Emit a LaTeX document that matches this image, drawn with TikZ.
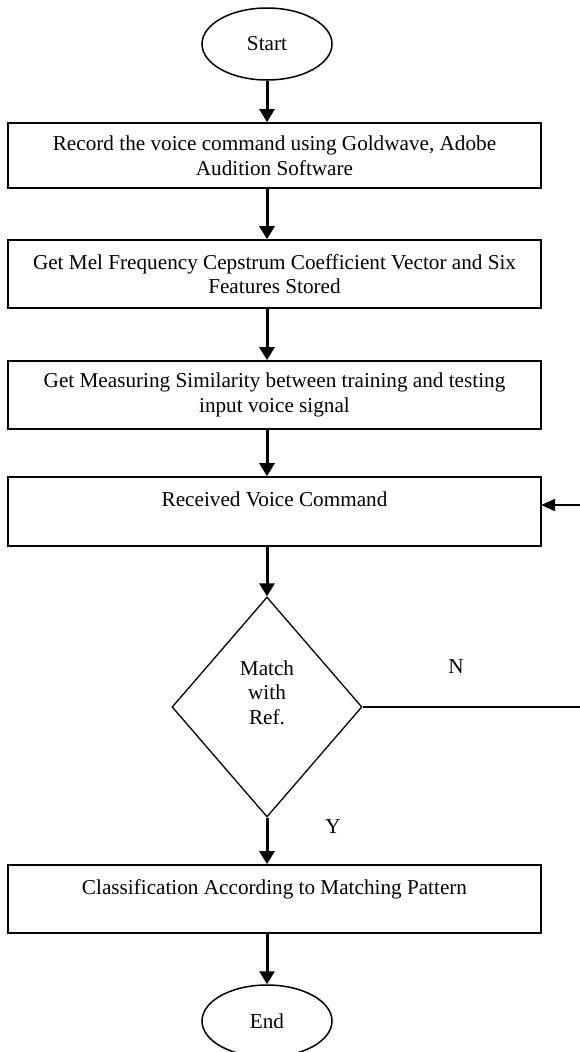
\documentclass[tikz,border=0pt]{standalone}
\usepackage{fontspec}
\setmainfont{Liberation Serif}
\usetikzlibrary{shapes.geometric,arrows.meta,calc}
\begin{document}
\begin{tikzpicture}[x=1pt,y=-1pt,
  txt/.style={font=\fontsize{21.2}{24.5}\selectfont},
  flowbox/.style={txt, draw, line width=1.7pt, rectangle, inner sep=0pt, align=center,
     minimum width=533pt, minimum height=68pt},
  term/.style={txt, draw, line width=1.5pt, ellipse, inner sep=0pt,
     minimum width=130pt, minimum height=72pt},
  decision/.style={txt, draw, line width=1.3pt, diamond, inner sep=0pt,
     minimum width=190pt, minimum height=220pt},
  flow/.style={line width=3pt, -{Triangle[length=13pt,width=15pt]}},
  backflow/.style={line width=1.4pt, -{Triangle[length=14pt,width=12pt]}},
  lbl/.style={txt, inner sep=0pt}]
\useasboundingbox (0,0) rectangle (579,1052);

\node[term] (start) at (267,44) {Start};
\node[flowbox, minimum height=65pt] (b1) at (274.5,155.5)
  {Record the voice command using Goldwave, Adobe\\Audition Software};
\node[flowbox] (b2) at (274.5,274)
  {Get Mel Frequency Cepstrum Coefficient Vector and Six\\Features Stored};
\node[flowbox] (b3) at (274.5,395)
  {Get Measuring Similarity between training and testing\\input voice signal};
\node[flowbox, minimum height=69pt] (b4) at (274.5,511.5)
  {Received Voice Command\\\mbox{}};
\node[decision] (dia) at (267,707)
  {\raisebox{7pt}[0pt][0pt]{\begin{tabular}{@{}c@{}}Match\\with\\Ref.\end{tabular}}};
\node[flowbox] (b5) at (274.5,899)
  {Classification According to Matching Pattern\\\mbox{}};
\node[term] (end) at (267,1021) {End};

\node[lbl] (nlab) at (456,667) {N};
\node[lbl] (ylab) at (333,827) {Y};

\draw[flow] (start.south) -- (start.south |- b1.north);
\draw[flow] (start.south |- b1.south) -- (start.south |- b2.north);
\draw[flow] (start.south |- b2.south) -- (start.south |- b3.north);
\draw[flow] (start.south |- b3.south) -- (start.south |- b4.north);
\draw[flow] (dia.north |- b4.south) -- (dia.north);
\draw[flow] (dia.south) -- (dia.south |- b5.north);
\draw[flow] (end.north |- b5.south) -- (end.north);

\coordinate (fbin) at (541,505);
\draw[backflow] (dia.east) -- (582,707) |- (fbin);
\end{tikzpicture}
\end{document}
